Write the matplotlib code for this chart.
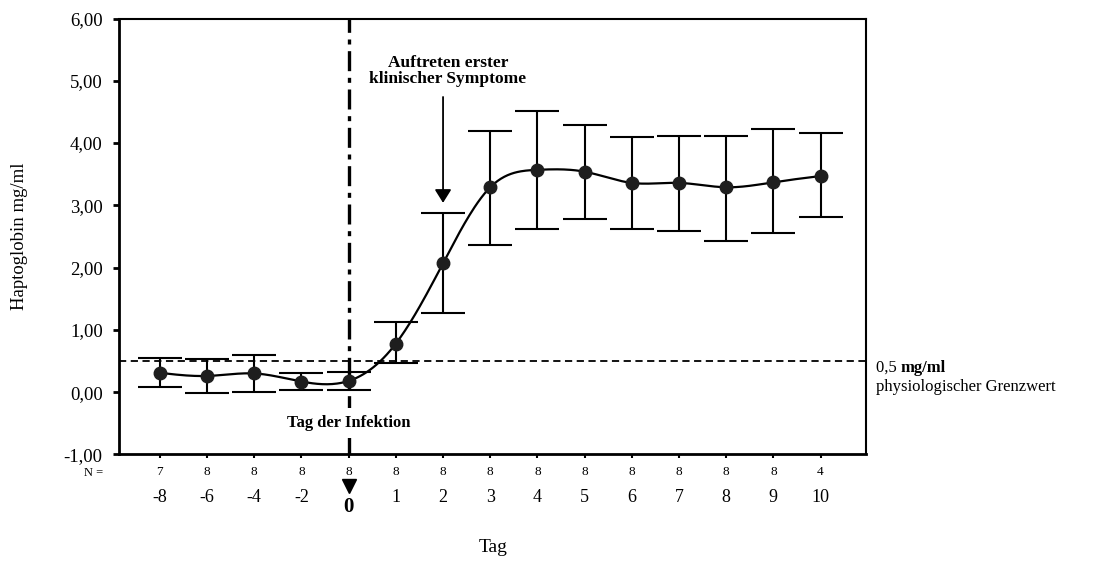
#!/usr/bin/env python3
"""Haptoglobin time course around the day of infection."""

import numpy as np
from matplotlib import pyplot as plt

plt.rcParams["font.family"] = ["Liberation Serif", "DejaVu Serif"]

days = ["-8", "-6", "-4", "-2", "0", "1", "2", "3", "4", "5", "6", "7", "8", "9", "10"]
n_animals = [7, 8, 8, 8, 8, 8, 8, 8, 8, 8, 8, 8, 8, 8, 4]
mean_hp = [0.31, 0.26, 0.30, 0.17, 0.18, 0.78, 2.07, 3.29, 3.57, 3.54, 3.36, 3.36, 3.29, 3.37, 3.47]
upper_hp = [0.55, 0.53, 0.59, 0.30, 0.33, 1.13, 2.88, 4.19, 4.51, 4.29, 4.09, 4.12, 4.12, 4.22, 4.16]
lower_hp = [0.075, -0.02, 0.01, 0.04, 0.04, 0.46, 1.27, 2.37, 2.62, 2.78, 2.62, 2.58, 2.42, 2.55, 2.81]
threshold = 0.5
infection_day = "0"
symptom_day = "2"


def natural_spline(x, y, num=400):
    """Natural cubic spline through (x, y), evaluated on a fine grid."""
    x = np.asarray(x, float)
    y = np.asarray(y, float)
    n = len(x)
    h = np.diff(x)
    A = np.zeros((n, n))
    b = np.zeros(n)
    A[0, 0] = A[-1, -1] = 1.0
    for i in range(1, n - 1):
        A[i, i - 1] = h[i - 1]
        A[i, i] = 2 * (h[i - 1] + h[i])
        A[i, i + 1] = h[i]
        b[i] = 3 * ((y[i + 1] - y[i]) / h[i] - (y[i] - y[i - 1]) / h[i - 1])
    c = np.linalg.solve(A, b)
    xs = np.linspace(x[0], x[-1], num)
    k = np.clip(np.searchsorted(x, xs) - 1, 0, n - 2)
    dx = xs - x[k]
    bk = (y[k + 1] - y[k]) / h[k] - h[k] * (2 * c[k] + c[k + 1]) / 3
    dk = (c[k + 1] - c[k]) / (3 * h[k])
    return xs, y[k] + bk * dx + c[k] * dx ** 2 + dk * dx ** 3


def main() -> None:
    x = np.arange(len(days))
    mean = np.array(mean_hp)
    yerr = [mean - np.array(lower_hp), np.array(upper_hp) - mean]

    fig = plt.figure(figsize=(11.05, 5.61), dpi=100)
    ax = fig.add_axes([0.108, 0.19, 0.676, 0.777])

    x0 = days.index(infection_day)
    ax.axvline(x0, color="black", lw=2.4, ls=(0, (6, 2, 1.5, 2)), zorder=1)
    ax.axhline(threshold, color="black", lw=1.3, ls=(0, (4, 2.5)), zorder=1)

    ax.errorbar(x, mean, yerr=yerr, fmt="none", ecolor="black", elinewidth=1.5,
                capsize=15.5, capthick=1.5, zorder=3)
    xs, ys = natural_spline(x, mean)
    ax.plot(xs, ys, color="black", lw=1.6, zorder=4)
    ax.plot(x, mean, "o", ms=9, color="#1e1e1e", zorder=5)

    ax.text(x0, -0.49, "Tag der Infektion", ha="center", va="center", fontsize=12,
            fontweight="bold", zorder=6,
            bbox=dict(facecolor="white", edgecolor="none", pad=5))

    xs2 = days.index(symptom_day)
    ax.annotate("", xy=(xs2, 3.04), xytext=(xs2, 4.74),
                arrowprops=dict(arrowstyle="-|>,head_length=0.8,head_width=0.5",
                                color="black", lw=1.3, shrinkA=0, shrinkB=0))
    ax.text(xs2 + 0.1, 5.16, "Auftreten erster\nklinischer Symptome", ha="center",
            va="center", fontsize=12.5, fontweight="bold", linespacing=1.0)

    ax.set_xlim(-0.86, 14.97)
    ax.set_ylim(-1, 6)
    ax.set_yticks(np.arange(-1, 7))
    ax.set_yticklabels([f"{v:.2f}".replace(".", ",") for v in np.arange(-1, 7)], fontsize=13.5)
    ax.set_xticks(x)
    ax.set_xticklabels([str(n) for n in n_animals], fontsize=9.5)
    ax.tick_params(axis="x", length=3, width=1.5, pad=5)
    ax.tick_params(axis="y", length=4, width=2, pad=8)
    for side in ("left", "bottom"):
        ax.spines[side].set_linewidth(2.0)
    for side in ("top", "right"):
        ax.spines[side].set_linewidth(1.5)

    trans = ax.get_xaxis_transform()
    ax.text(-1.2, -0.03, "N =", transform=trans, ha="right", va="top", fontsize=9)
    for i, d in enumerate(days):
        if d == infection_day:
            ax.text(i, -0.097, d, transform=trans, ha="center", va="top",
                    fontsize=15, fontweight="bold")
            ax.plot(i, -0.072, marker="v", ms=10, color="black", transform=trans,
                    clip_on=False)
        else:
            ax.text(i, -0.079, d, transform=trans, ha="center", va="top", fontsize=13)

    ax.set_ylabel("Haptoglobin mg/ml", fontsize=13.5, labelpad=26)
    ax.set_xlabel("Tag", fontsize=14)
    ax.xaxis.set_label_coords(0.5, -0.193)

    ytrans = ax.get_yaxis_transform()
    t = ax.text(1.013, threshold - 0.24, "0,5 ", transform=ytrans, ha="left",
                va="bottom", fontsize=12)
    ax.annotate("mg/ml", xy=(1, 0), xycoords=t, va="bottom", fontsize=12,
                fontweight="bold")
    ax.text(1.013, threshold - 0.29, "physiologischer Grenzwert", transform=ytrans,
            ha="left", va="top", fontsize=12)

    fig.savefig("out.png", dpi=100)


if __name__ == "__main__":
    main()
